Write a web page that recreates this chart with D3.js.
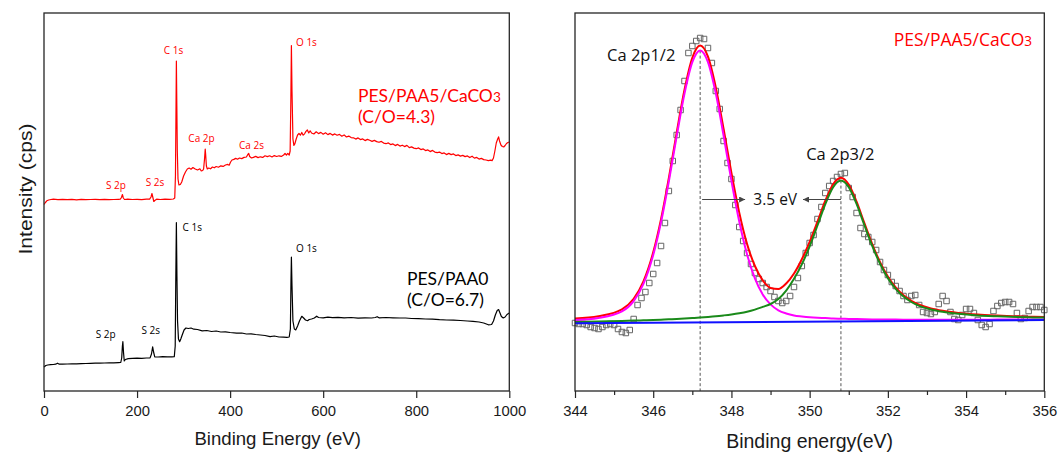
<!DOCTYPE html>
<html><head><meta charset="utf-8">
<script src="https://cdn.jsdelivr.net/npm/d3@7"></script>
<style>
html,body{margin:0;padding:0;background:#fff;}
svg{display:block;}
</style></head><body>
<svg id="chart" width="1059" height="452"></svg>
<script>
// ---------------- DATA ----------------
// Survey spectra: [binding energy (eV), intensity (a.u.)]
const surveyTicks = [0, 200, 400, 600, 800, 1000];
const surveyRed = [[0,186.5],[3,188.5],[6,190.2],[10,191.0],[15,191.5],[20,191.8],[30,191.4],[40,191.7],[50,191.3],[60,191.6],[70,191.2],[80,191.6],[90,191.4],[100,191.5],[110,191.7],[120,191.3],[130,191.6],[140,191.4],[150,191.5],[160,191.7],[164,191.8],[166.5,193.5],[168.5,196.5],[170.5,193],[173,191.5],[180,191.8],[190,191.5],[200,191.7],[210,191.4],[220,191.8],[227,191.9],[230,194],[232,197.5],[234,193.5],[236,189.5],[238,190.5],[242,191.8],[250,191.5],[260,191.8],[270,191.6],[278,192],[281,193],[282.5,215],[283.5,270],[284.5,330],[285.5,285],[286.5,240],[288,212],[290,206],[293,206.5],[296,209],[300,215],[304,219],[308,222],[312,223],[316,221.8],[320,223.5],[325,222],[330,221],[335,222.2],[338,220],[341,220.5],[343,222],[345,232],[346.5,242],[347.5,236],[349,225],[351,222],[354,223],[358,222.2],[362,224],[366,223.2],[370,224.5],[375,223.8],[380,225.2],[385,224.6],[390,226],[395,226.6],[398,225.8],[401,229],[404,231],[408,231.6],[412,232.6],[416,231.8],[420,233],[425,232.4],[430,233.6],[435,234],[438,236.5],[440,237.5],[442,234.5],[446,233],[450,233.6],[455,234.6],[460,233.4],[465,234.2],[470,233.6],[475,235.2],[480,234.4],[485,235.2],[490,234],[495,235.4],[500,234.5],[505,235.2],[510,234.6],[515,236],[518,237.5],[521,236],[524,237.6],[527,236],[529,240],[530.5,290],[531.7,345.4],[533,300],[535,252],[537,245.7],[539,247],[542,252],[545,256],[548,257.5],[551,255.8],[554,258.6],[557,255.8],[560,257.2],[563,259.6],[566,261],[569,258],[572,260.2],[575,258],[580,257],[585,259.2],[590,257.4],[595,258.6],[600,256.8],[605,258.2],[610,256.4],[615,257.6],[620,255.9],[625,257.1],[630,255.8],[635,256.6],[640,254.8],[645,256.1],[650,254],[655,254.9],[660,253.4],[665,253.2],[670,251.9],[675,253.1],[680,251.4],[685,252.1],[690,250.4],[695,251.6],[700,250.7],[705,249.6],[710,250.6],[715,249.4],[720,248.7],[725,249.6],[730,247.9],[735,247.3],[740,248.1],[745,246.4],[750,247.1],[755,245.4],[760,246.6],[765,244.9],[770,245.8],[775,244.4],[780,245.6],[785,243.4],[790,244.1],[795,242.9],[800,242.3],[805,243.1],[810,241.4],[815,242.1],[820,240.4],[825,241.1],[830,239.4],[835,240.6],[840,238.9],[845,238.4],[850,238.9],[855,237.4],[860,238.1],[865,236.4],[870,237.6],[875,236.4],[880,237.1],[885,235.4],[890,236.1],[895,234.9],[900,235.6],[905,234.4],[910,235.1],[915,233.4],[920,234.8],[925,232.9],[930,233.6],[935,231.9],[940,232.6],[945,231.4],[950,231],[955,230.4],[960,230.9],[963,230.4],[966,233],[969,240],[972,248],[975,252],[977,254.1],[979,250],[982,246],[985,244.5],[988,244],[991,245.5],[994,247.5],[997,248.5],[1000,249]];
const surveyBlack = [[0,24],[4,25.5],[8,26],[14,26.3],[20,26.5],[25,26.8],[29,27.8],[33,26.8],[40,26.9],[50,27],[60,27.1],[70,27.2],[80,27.4],[90,27.5],[100,27.6],[110,27.8],[120,27.9],[130,28],[140,28.1],[150,28.2],[160,28.4],[165,28.5],[167,33],[168.5,45],[169.5,49.3],[171,38],[172.5,30],[175,31.5],[181,32.4],[190,32.6],[200,32.8],[210,32.7],[220,33],[228,33.1],[231,37],[233.5,44.2],[235.5,39],[238,34.1],[245,34],[255,34.3],[265,34.1],[275,34.2],[280,34.3],[282,45],[283.2,110],[284.5,168.3],[285.7,115],[287,70],[289,52],[291.5,49.3],[294,52],[297,56],[301,61],[305,63],[310,62.5],[316,63],[322,61.8],[330,61.5],[340,60.1],[350,60.5],[360,59.5],[370,60],[380,59],[390,59.2],[400,58.5],[414,57.8],[425,58],[435,57],[445,57.2],[455,56.5],[465,56],[475,55.5],[486,54.4],[495,55],[505,54],[515,53.8],[522,53.6],[527,54],[529.5,62],[530.8,110],[531.7,133.8],[533,105],[535,70],[538,62],[541,61.1],[545,65],[549,70],[554,74.7],[558,73],[562,71],[566.5,70.3],[570,71.5],[575,72],[581,73],[586,74.8],[590,73.5],[600,73.2],[610,73.8],[620,73.3],[632,73.7],[645,73.2],[660,73.5],[675,72.8],[690,73.2],[704,73],[712,73.5],[716,74.3],[720,73.2],[735,73.5],[750,73.2],[765,73],[777,73],[790,72.5],[805,72.3],[820,72],[835,71.8],[850,71.3],[865,71],[880,70.8],[895,70.5],[910,70],[922,69.6],[935,69],[945,68],[955,66.2],[962,66.5],[966,70],[970,76],[974,80.5],[977,81.4],[980,78],[983,74.5],[987,73],[991,74],[995,76.5],[1000,78]];

// Ca 2p high-resolution spectrum
const caMajorTicks = [344, 346, 348, 350, 352, 354, 356];
const caMinorTicks = [345, 347, 349, 351, 353, 355];
const caDataEnergy = [344.0,344.1,344.2,344.3,344.4,344.5,344.6,344.7,344.8,344.9,345.0,345.1,345.2,345.3,345.4,345.5,345.6,345.7,345.8,345.9,346.0,346.1,346.2,346.3,346.4,346.5,346.6,346.7,346.8,346.9,347.0,347.1,347.2,347.3,347.4,347.5,347.6,347.7,347.8,347.9,348.0,348.1,348.2,348.3,348.4,348.5,348.6,348.7,348.8,348.9,349.0,349.1,349.2,349.3,349.4,349.5,349.6,349.7,349.8,349.9,350.0,350.1,350.2,350.3,350.4,350.5,350.6,350.7,350.8,350.9,351.0,351.1,351.2,351.3,351.4,351.5,351.6,351.7,351.8,351.9,352.0,352.1,352.2,352.3,352.4,352.5,352.6,352.7,352.8,352.9,353.0,353.1,353.2,353.3,353.4,353.5,353.6,353.7,353.8,353.9,354.0,354.1,354.2,354.3,354.4,354.5,354.6,354.7,354.8,354.9,355.0,355.1,355.2,355.3,355.4,355.5,355.6,355.7,355.8,355.9,356.0];
const caDataCounts = [68,67,67,66,64,63,62,64,66,67, 66,62,59,58,61,72,86,93,99,108, 117,128,145,168,200,230,256,281,310,338, 345,350,353,352,343,328,300,282,250,228, 212,186,164,150,138,127,118,112,108,104, 100,94,90,88,90,95,104,113,125,138, 148,156,172,184,198,205,210,214,217,218, 203,194,178,163,157,154,149,141,129,121, 116,109,105,100,95,91,95,96,86,79, 78,77,79,87,95,90,79,72,71,76, 82,82,78,71,66,64,67,80,85,88, 89,89,87,78,72,73,80,84,84,84, 81];
const caFitEnergy = [344,344.6,345.2,345.5,345.75,346,346.2,346.4,346.6,346.8,347,347.2,347.4,347.6,347.8,348,348.2,348.4,348.6,348.8,349,349.2,349.4,349.6,349.8,350,350.2,350.4,350.6,350.8,351,351.2,351.4,351.6,351.8,352,352.2,352.4,352.6,352.8,353.1,353.4,353.8,354.3,354.8,355.6,356];
const caEnvelope = [72.5,74.8,81.7,92.2,109.6,138.7,171.9,213.1,258.4,301.3,333.2,345.4,334.3,303.6,262.0,218.0,178.4,147.0,125.0,110.6,103.0,102.0,107.5,117.5,131.8,149.0,169.3,190.3,206.8,213.3,206.4,189.3,167.8,146.9,128.9,114.5,103.6,95.8,90.2,86.4,82.6,80.2,78.1,76.4,75.4,74.3,73.9];
const caPeak2p12 = [71.1,73.1,79.6,89.9,107.1,136.0,168.9,209.8,254.8,297.4,328.8,340.6,328.9,297.6,255.2,210.2,169.5,136.6,112.6,96.5,86.6,80.7,77.5,75.5,74.5,73.7,73.2,72.9,72.5,72.3,72.1,71.9,71.7,71.6,71.55,71.5,71.4,71.35,71.3,71.3,71.25,71.3,71.3,71.3,71.4,71.5,71.5];
const caPeak2p32 = [69.1,69.6,70.1,70.4,70.7,71.0,71.3,71.7,72.0,72.4,72.9,73.4,74.0,74.7,75.6,76.6,77.8,79.3,81.4,84.1,87.0,92.0,100.4,112.2,126.6,144.7,165.5,186.9,203.8,210.6,203.9,187.1,165.8,145.1,127.2,112.9,102.2,94.4,89.0,85.2,81.5,79.2,77.2,75.6,74.7,73.7,73.4];
const caBackgroundEnergy = [344, 356];
const caBackground = [67.7, 71.0];
const caPeakCenters = [347.2, 350.8];
const caSplitting = 3.5;

// ---------------- LAYOUT ----------------
const svg = d3.select('#chart');
const yTop = 13, yBot = 391;
const L = {x0: 44, x1: 509.3};
const R = {x0: 575, x1: 1044.3};
const tickFont = '"Liberation Sans", Arial, sans-serif';
const labelFont = '"Open Sans", "Noto Sans", sans-serif';
const captionFont = 'Lato, "Open Sans", sans-serif';
const frameColor = '#262626';

const xS = d3.scaleLinear().domain([0, 1000]).range([L.x0, L.x1]);
const yS = d3.scaleLinear().domain([0, 378]).range([yBot, yTop]);
const xC = d3.scaleLinear().domain([344, 356]).range([R.x0, R.x1]);
const yC = d3.scaleLinear().domain([0, 378]).range([yBot, yTop]);

function styleAxis(g) {
  g.select('.domain').remove();
  g.selectAll('.tick line').attr('stroke', frameColor).attr('stroke-width', 1.2);
  g.selectAll('.tick text').attr('font-family', tickFont).attr('font-size', 14.8).attr('fill', '#1a1a1a');
}

// ---------- LEFT PANEL ----------
const gl = svg.append('g');
gl.append('g').attr('transform', `translate(0,${yBot})`)
  .call(d3.axisBottom(xS).tickValues(surveyTicks).tickSize(7).tickPadding(7.5).tickSizeOuter(0).tickFormat(d3.format('d')))
  .call(styleAxis);

const lineS = d3.line().x(d => xS(d[0])).y(d => yS(d[1]));
gl.append('path').datum(surveyBlack).attr('d', lineS).attr('fill', 'none').attr('stroke', '#000').attr('stroke-width', 1.2).attr('stroke-linejoin', 'round');
gl.append('path').datum(surveyRed).attr('d', lineS).attr('fill', 'none').attr('stroke', '#ff0000').attr('stroke-width', 1.2).attr('stroke-linejoin', 'round');

gl.append('rect').attr('x', L.x0).attr('y', yTop).attr('width', L.x1 - L.x0).attr('height', yBot - yTop)
  .attr('fill', 'none').attr('stroke', frameColor).attr('stroke-width', 1.3);

const peakLabels = [
  {t: 'S 2p', e: 154.7, v: 202, a: 'middle', c: '#ff0000'},
  {t: 'S 2s', e: 238.6, v: 205, a: 'middle', c: '#ff0000'},
  {t: 'C 1s', e: 278.3, v: 337, a: 'middle', c: '#ff0000'},
  {t: 'Ca 2p', e: 338.5, v: 249, a: 'middle', c: '#ff0000'},
  {t: 'Ca 2s', e: 446, v: 242, a: 'middle', c: '#ff0000'},
  {t: 'O 1s', e: 541.6, v: 345, a: 'start', c: '#ff0000'},
  {t: 'S 2p', e: 132.5, v: 52.7, a: 'middle', c: '#000'},
  {t: 'S 2s', e: 229.5, v: 56.8, a: 'middle', c: '#000'},
  {t: 'C 1s', e: 297.7, v: 160.2, a: 'start', c: '#000'},
  {t: 'O 1s', e: 541.6, v: 139, a: 'start', c: '#000'}
];
gl.selectAll('text.pk').data(peakLabels).join('text').attr('class', 'pk')
  .attr('x', d => xS(d.e)).attr('y', d => yS(d.v)).attr('text-anchor', d => d.a)
  .attr('font-family', labelFont).attr('font-size', 10).attr('fill', d => d.c).text(d => d.t);

function caco3(sel, prefix) {
  sel.append('tspan').text(prefix + 'CaCO');
  sel.append('tspan').attr('font-size', '0.78em').text('3');
}
// two-line sample captions
const capSize = 17.5;
const tRed = gl.append('text').attr('x', xS(674.8)).attr('y', yS(289)).attr('font-family', captionFont).attr('font-size', capSize).attr('fill', '#ff0000');
caco3(tRed, 'PES/PAA5/');
gl.append('text').attr('x', xS(674.8)).attr('y', yS(268)).attr('font-family', captionFont).attr('font-size', capSize).attr('fill', '#ff0000').text('(C/O=4.3)');
gl.append('text').attr('x', xS(780)).attr('y', yS(106)).attr('font-family', captionFont).attr('font-size', capSize).attr('fill', '#000').text('PES/PAA0');
gl.append('text').attr('x', xS(780)).attr('y', yS(85)).attr('font-family', captionFont).attr('font-size', capSize).attr('fill', '#000').text('(C/O=6.7)');

gl.append('text').attr('transform', `translate(31.5,189) rotate(-90)`).attr('text-anchor', 'middle')
  .attr('font-family', tickFont).attr('font-size', 18.5).attr('fill', '#1a1a1a')
  .attr('textLength', 131).attr('lengthAdjust', 'spacingAndGlyphs').text('Intensity (cps)');
gl.append('text').attr('x', (L.x0 + L.x1) / 2 + 1).attr('y', 445).attr('text-anchor', 'middle')
  .attr('font-family', tickFont).attr('font-size', 18.6).attr('fill', '#1a1a1a').text('Binding Energy (eV)');

// ---------- RIGHT PANEL ----------
const gr = svg.append('g');
gr.append('g').attr('transform', `translate(0,${yBot})`)
  .call(d3.axisBottom(xC).tickValues(caMajorTicks).tickSize(7).tickPadding(7.5).tickSizeOuter(0).tickFormat(d3.format('d')))
  .call(styleAxis);
gr.append('g').attr('transform', `translate(0,${yBot})`)
  .call(d3.axisBottom(xC).tickValues(caMinorTicks).tickSize(4).tickFormat(''))
  .call(styleAxis);

// dashed peak position lines
const peakTops = [d3.max(caPeak2p12), d3.max(caPeak2p32)];
gr.selectAll('line.pkpos').data(caPeakCenters).join('line').attr('class', 'pkpos')
  .attr('x1', d => xC(d)).attr('x2', d => xC(d))
  .attr('y1', (d, i) => yC(peakTops[i])).attr('y2', yBot)
  .attr('stroke', '#555').attr('stroke-width', 1).attr('stroke-dasharray', '3,2.2');

// data squares
const caData = caDataEnergy.map((e, i) => [e, caDataCounts[i]]);
gr.selectAll('path.pt').data(caData).join('path').attr('class', 'pt')
  .attr('transform', d => `translate(${xC(d[0])},${yC(d[1])})`)
  .attr('d', d3.symbol(d3.symbolSquare).size(30))
  .attr('fill', 'none').attr('stroke', '#666').attr('stroke-width', 1);

const lineC = d3.line().x(d => xC(d[0])).y(d => yC(d[1])).curve(d3.curveMonotoneX);
function fitLine(vals, color) {
  gr.append('path').datum(caFitEnergy.map((e, i) => [e, vals[i]])).attr('d', lineC)
    .attr('fill', 'none').attr('stroke', color).attr('stroke-width', 2);
}
fitLine(caEnvelope, '#ff0000');
fitLine(caPeak2p12, '#ff00ff');
fitLine(caPeak2p32, '#1a8a1a');
gr.append('path').datum(caBackgroundEnergy.map((e, i) => [e, caBackground[i]])).attr('d', lineC)
  .attr('fill', 'none').attr('stroke', '#1010ff').attr('stroke-width', 2);

// splitting arrows
const defs = svg.append('defs');
defs.append('marker').attr('id', 'ah').attr('viewBox', '0 0 10 10').attr('refX', 10).attr('refY', 5)
  .attr('markerWidth', 9).attr('markerHeight', 6).attr('markerUnits', 'userSpaceOnUse').attr('orient', 'auto')
  .append('path').attr('d', 'M0,0 L10,5 L0,10 Z').attr('fill', '#444');
const arrowV = 191.5;
const arrows = [[caPeakCenters[0] + 0.05, 348.35], [caPeakCenters[1], 349.83]];
gr.selectAll('line.arr').data(arrows).join('line').attr('class', 'arr')
  .attr('x1', d => xC(d[0])).attr('x2', d => xC(d[1]))
  .attr('y1', yC(arrowV)).attr('y2', yC(arrowV))
  .attr('stroke', '#444').attr('stroke-width', 1).attr('marker-end', 'url(#ah)');
gr.append('text').attr('x', xC(349.12)).attr('y', yC(186)).attr('text-anchor', 'middle')
  .attr('font-family', labelFont).attr('font-size', 15.5).attr('fill', '#111').text(caSplitting.toFixed(1) + ' eV');

gr.append('text').attr('x', xC(344.82)).attr('y', yC(330)).attr('font-family', labelFont).attr('font-size', 16.5).attr('fill', '#111').text('Ca 2p1/2');
gr.append('text').attr('x', xC(349.91)).attr('y', yC(231)).attr('font-family', labelFont).attr('font-size', 16.5).attr('fill', '#111').text('Ca 2p3/2');
const tR = gr.append('text').attr('x', xC(355.69)).attr('y', yC(345)).attr('text-anchor', 'end').attr('font-family', labelFont).attr('font-size', 17.5).attr('fill', '#ff0000');
caco3(tR, 'PES/PAA5/');

gr.append('rect').attr('x', R.x0).attr('y', yTop).attr('width', R.x1 - R.x0).attr('height', yBot - yTop)
  .attr('fill', 'none').attr('stroke', frameColor).attr('stroke-width', 1.3);
gr.append('text').attr('x', (R.x0 + R.x1) / 2 + 0).attr('y', 448).attr('text-anchor', 'middle')
  .attr('font-family', tickFont).attr('font-size', 19.5).attr('fill', '#1a1a1a').text('Binding energy(eV)');
</script></body></html>
